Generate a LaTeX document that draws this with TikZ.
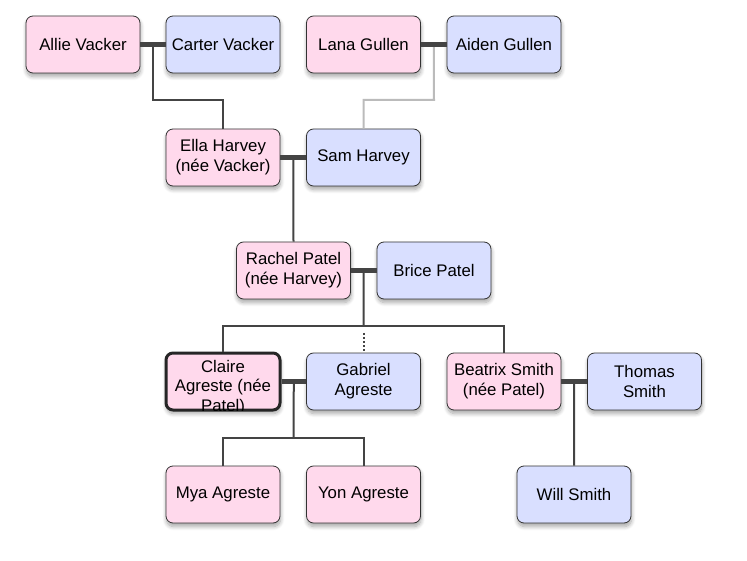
\documentclass[tikz,border=0pt]{standalone}
\usepackage{fontspec}
\setmainfont{Liberation Sans}
\usetikzlibrary{shadows.blur,calc}
\definecolor{fpink}{RGB}{255,217,236}
\definecolor{mblue}{RGB}{217,223,255}
\definecolor{edgec}{RGB}{51,51,51}
\definecolor{lineg}{RGB}{68,68,68}
\definecolor{lightg}{RGB}{187,187,187}
\begin{document}
\begin{tikzpicture}[x=1pt,y=-1pt,
 person/.style={draw=edgec, line width=0.8pt, rounded corners=7pt, minimum width=114pt, minimum height=57pt, align=center, font=\fontsize{16.8}{20}\selectfont, text=black, inner sep=2pt,
   blur shadow={shadow xshift=0.5pt, shadow yshift=-3.5pt, shadow blur radius=4pt, shadow blur steps=8, shadow opacity=35}},
 female/.style={person, fill=fpink},
 male/.style={person, fill=mblue},
 marriage/.style={line width=5pt, draw=lineg},
 descent/.style={line width=2pt, draw=lineg},
 faint/.style={line width=2pt, draw=lightg},
 txt/.style={font=\fontsize{16.8}{20}\selectfont, anchor=base, inner sep=0pt, text=black},
]
\useasboundingbox (0,0) rectangle (747,561);
% generation 1
\node[female] (allie) at (83,44.5) {Allie Vacker};
\node[male] (carter) at (223,44.5) {Carter Vacker};
\node[female] (lana) at (363.5,44.5) {Lana Gullen};
\node[male] (aiden) at (504,44.5) {Aiden Gullen};
% generation 2
\node[female] (ella) at (223,157.5) {Ella Harvey\\(née Vacker)};
\node[male] (sam) at (363.5,157.5) {Sam Harvey};
% generation 3
\node[female] (rachel) at (293.5,270.5) {Rachel Patel\\(née Harvey)};
\node[male] (brice) at (434,270.5) {Brice Patel};
% generation 4
\node[female, draw=black!85, line width=3pt] (claire) at (223,381.5) {};
\node[male] (gabriel) at (363.5,381.5) {Gabriel\\Agreste};
\node[female] (beatrix) at (504,381.5) {Beatrix Smith\\(née Patel)};
\node[male] (thomas) at (644.5,381.5) {Thomas\\Smith};
% generation 5
\node[female] (mya) at (223,494.5) {Mya Agreste};
\node[female] (yon) at (363.5,494.5) {Yon Agreste};
\node[male] (will) at (574,494.5) {Will Smith};
% clipped text of Claire
\begin{scope}
\clip[rounded corners=5.5pt] ($(claire.south west)+(1.5,-1.5)$) rectangle ($(claire.north east)+(-1.5,1.5)$);
\node[txt] (claireA) at (223,372) {Claire};
\node[txt] (claireB) at (223,391.5) {Agreste (née};
\node[txt] (claireC) at (223,411.5) {Patel)};
\end{scope}
% coordinates
\coordinate (m1) at ($(allie.east)!0.5!(carter.west)$);
\coordinate (m2) at ($(lana.east)!0.5!(aiden.west)$);
\coordinate (m3) at ($(ella.east)!0.5!(sam.west)$);
\coordinate (m4) at ($(rachel.east)!0.5!(brice.west)$);
\coordinate (m5) at ($(claire.east)!0.5!(gabriel.west)$);
\coordinate (m6) at ($(beatrix.east)!0.5!(thomas.west)$);
\coordinate (b1) at (153,100);
\coordinate (b2) at (434,100);
\coordinate (b4) at (363.5,326);
\coordinate (b5) at (293.5,438);
\coordinate (d1) at (363.5,333);
% descent lines
\draw[descent] (m1) -- (b1) -| (ella.north);
\draw[faint] (m2) -- (b2) -| (sam.north);
\draw[descent] (m3) -- (rachel.north);
\draw[descent] (m4) -- (b4);
\draw[descent] (claire.north) -- (claire.north |- b4) -- (beatrix.north |- b4) -- (beatrix.north);
\draw[lineg, line width=2pt, dash pattern=on 2pt off 2pt] (d1) -- (gabriel.north);
\draw[descent] (m5) -- (b5);
\draw[descent] (mya.north) -- (mya.north |- b5) -- (yon.north |- b5) -- (yon.north);
\draw[descent] (m6) -- (will.north);
% marriage lines
\draw[marriage] (allie.east) -- (carter.west);
\draw[marriage] (lana.east) -- (aiden.west);
\draw[marriage] (ella.east) -- (sam.west);
\draw[marriage] (rachel.east) -- (brice.west);
\draw[marriage] (claire.east) -- (gabriel.west);
\draw[marriage] (beatrix.east) -- (thomas.west);
\end{tikzpicture}
\end{document}
